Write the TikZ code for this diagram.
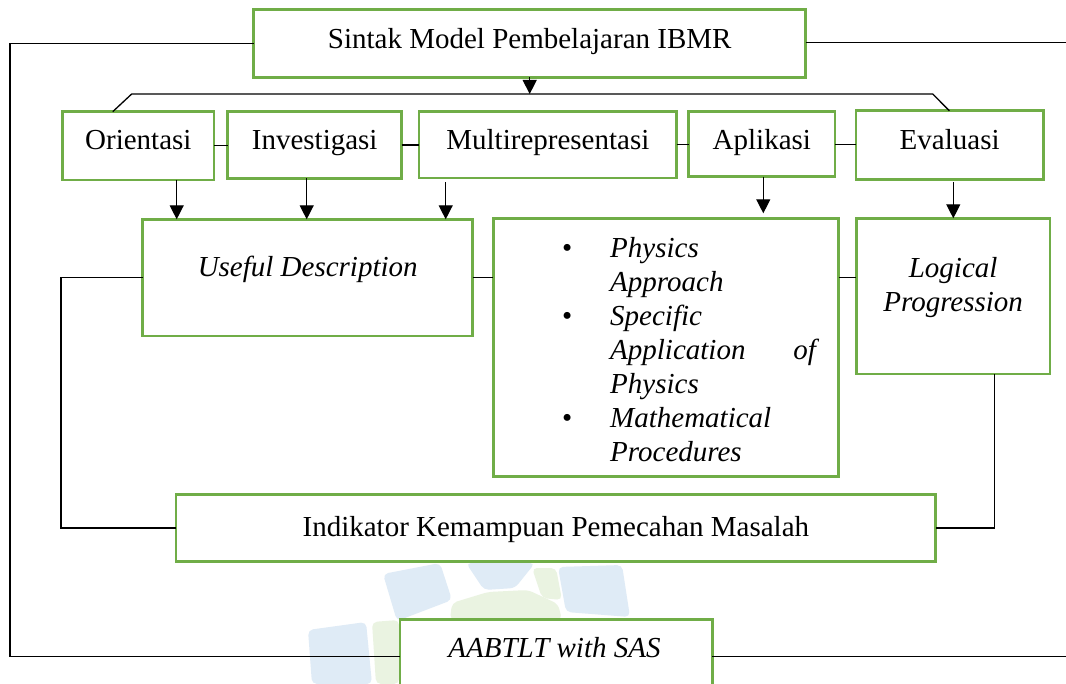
\documentclass[tikz,border=0pt]{standalone}
\usepackage{fontspec}
\setmainfont{Liberation Serif}
\usetikzlibrary{arrows.meta}
\definecolor{boxgreen}{HTML}{70AD47}
\definecolor{wmblue}{HTML}{DFEBF6}
\definecolor{wmgreen}{HTML}{EAF3E1}
\begin{document}
\begin{tikzpicture}[x=1pt,y=-1pt,
  bx/.style={draw=boxgreen,line width=2.8pt,fill=white,inner sep=0pt,outer sep=0pt},
  txt/.style={inner sep=0pt,anchor=base,font=\fontsize{29}{34}\selectfont},
  ln/.style={draw=black,line width=1.3pt},
  arr/.style={ln,-{Triangle[width=14pt,length=14pt]}}]
\clip (0,0) rectangle (1066,684);
\fill[white] (0,0) rectangle (1066,684);
% watermark
\fill[wmblue,rounded corners=5pt] (383,574) -- (440,563) -- (452,600) -- (397,621) -- cycle;
\fill[wmblue,rounded corners=5pt] (466,563) -- (535,563) -- (515,588) -- (484,590) -- cycle;
\fill[wmblue,rounded corners=5pt] (558,567) -- (622,565) -- (630,617) -- (566,612) -- cycle;
\fill[wmblue,rounded corners=5pt] (308,630) -- (366,622) -- (372,684) -- (312,684) -- cycle;
\fill[wmgreen,rounded corners=5pt] (452,603) -- (488,592) -- (528,590) -- (558,604) -- (562,620) -- (450,620) -- cycle;
\fill[wmgreen,rounded corners=5pt] (372,622) -- (399,620) -- (399,684) -- (376,684) -- cycle;
\fill[wmgreen,rounded corners=5pt] (532,568) -- (556,568) -- (562,600) -- (542,598) -- cycle;
% boxes
\node[bx,minimum width=551.8pt,minimum height=67.7pt] (title) at (529.7,43.45) {};
\node[bx,minimum width=151.3pt,minimum height=68.3pt] (ori) at (138.35,145.85) {};
\node[bx,minimum width=174pt,minimum height=66.6pt] (inv) at (314.7,145) {};
\node[bx,minimum width=257.7pt,minimum height=66.3pt] (mul) at (547.85,144.85) {};
\node[bx,minimum width=146.3pt,minimum height=65pt] (apl) at (761.85,144.2) {};
\node[bx,minimum width=187.3pt,minimum height=68.6pt] (eva) at (949.65,145) {};
\node[bx,minimum width=330pt,minimum height=116.7pt] (use) at (307.7,277.65) {};
\node[bx,minimum width=345.3pt,minimum height=258.4pt] (mid) at (665.95,347.5) {};
\node[bx,minimum width=193.7pt,minimum height=155.7pt] (log) at (953.15,296.15) {};
\node[bx,minimum width=759.7pt,minimum height=67.2pt] (ind) at (555.85,527.9) {};
\node[bx,minimum width=312.3pt,minimum height=80.7pt] (aab) at (556.15,659.65) {};
% texts
\node[txt] (titleT) at (title.center |- 0,49) {Sintak Model Pembelajaran IBMR};
\node[txt] (oriT) at (ori.center |- 0,150) {Orientasi};
\node[txt] (invT) at (inv.center |- 0,150) {Investigasi};
\node[txt] (mulT) at (mul.center |- 0,150) {Multirepresentasi};
\node[txt] (aplT) at (apl.center |- 0,150) {Aplikasi};
\node[txt] (evaT) at (eva.center |- 0,150) {Evaluasi};
\node[txt] (useT) at (use.center |- 0,276.5) {\itshape Useful Description};
\node[txt] (logT) at (log.center |- 0,277.5) {\itshape\begin{tabular}[t]{@{}c@{}}Logical\\[0.5pt]Progression\end{tabular}};
\node[txt,anchor=base west] (midT) at (562,258) {\renewcommand\arraystretch{1}%
\begin{tabular}[t]{@{}l@{}l@{}}
\makebox[48pt][l]{\textbullet} & \textit{Physics}\\
 & \textit{Approach}\\
\makebox[48pt][l]{\textbullet} & \textit{Specific}\\
 & \makebox[209pt][s]{\textit{Application}\hfill\textit{of}}\\
 & \textit{Physics}\\
\makebox[48pt][l]{\textbullet} & \textit{Mathematical}\\
 & \textit{Procedures}
\end{tabular}};
\node[txt] (indT) at (ind.center |- 0,536.5) {Indikator Kemampuan Pemecahan Masalah};
\node[txt] (aabT) at (554.5,657.5) {\itshape AABTLT with SAS};
% outer loop
\coordinate (lt) at (10,43.45);
\coordinate (lb) at (10,656.5);
\coordinate (rt) at (1066,42.5);
\coordinate (rb) at (1066,656.5);
\draw[ln] (title.west) -- (lt) -- (lb) -- (lb -| aab.west);
\draw[ln] (title.east |- rt) -- (rt);
\draw[ln] (lb -| aab.east) -- (rb);
% bus
\coordinate (busL) at (131.7,94);
\coordinate (busR) at (932.7,94);
\draw[ln] ([xshift=50pt]ori.north west) -- (busL) -- (busR) -- ([xshift=93.3pt]eva.north west);
\draw[arr] (title.south) -- (title.south |- busL);
% links between steps
\draw[ln] (ori.east) -- (ori.east -| inv.west);
\draw[ln] (inv.east) -- (inv.east -| mul.west);
\draw[ln] (mul.east) -- (mul.east -| apl.west);
\draw[ln] (apl.east) -- (apl.east -| eva.west);
% arrows down
\draw[arr] (ori.south -| 176.7,0) -- (use.north -| 176.7,0);
\draw[arr] (inv.south -| 306.7,0) -- (use.north -| 306.7,0);
\draw[arr,shorten <=4.5pt] (mul.south -| 445.7,0) -- (use.north -| 445.7,0);
\draw[arr,shorten >=5pt] (apl.south -| 763.3,0) -- (mid.north -| 763.3,0);
\draw[arr,shorten <=2.5pt] (eva.south -| 953.3,0) -- (log.north -| 953.3,0);
% side links
\draw[ln] (use.east) -- (use.east -| mid.west);
\draw[ln] (mid.east |- use.east) -- (log.west |- use.east);
% loops to indikator
\draw[ln] (use.west) -- (use.west -| 61,0) -- (ind.west -| 61,0) -- (ind.west);
\draw[ln] (log.south -| 994.3,0) -- (ind.east -| 994.3,0) -- (ind.east);
\end{tikzpicture}
\end{document}
